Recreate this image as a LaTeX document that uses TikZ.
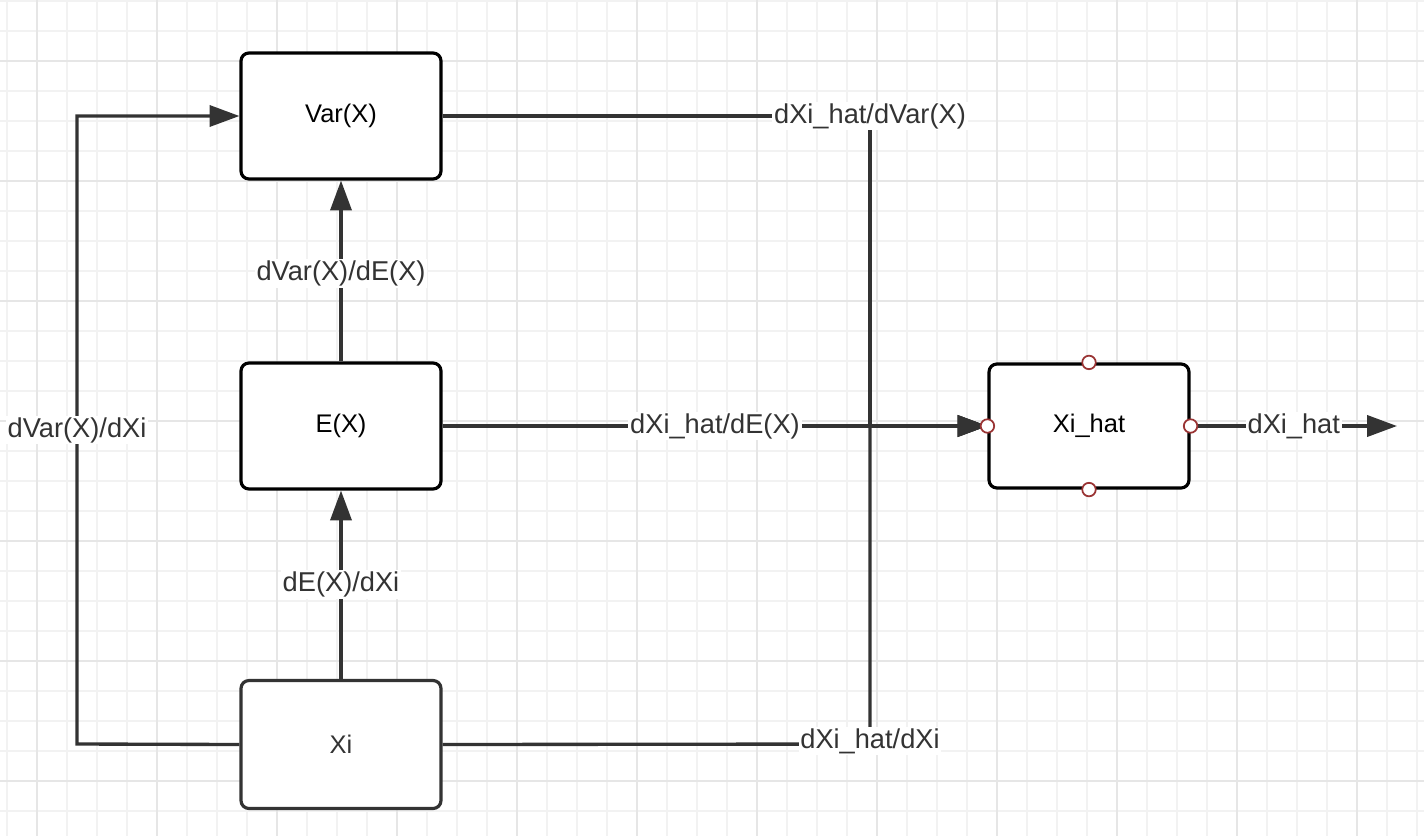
\documentclass[tikz,border=0pt]{standalone}
\usepackage{fontspec}
\setmainfont{Liberation Sans}
\usepackage{xcolor}
\definecolor{edgegray}{HTML}{333333}
\definecolor{gridminor}{HTML}{F2F2F2}
\definecolor{gridmajor}{HTML}{E6E6E6}
\definecolor{portred}{HTML}{9A3434}
\usepackage{tikz}
\usetikzlibrary{arrows.meta,positioning}

\begin{document}
\begin{tikzpicture}[x=0.02cm,y=-0.02cm,
                      box/.style={rectangle,rounded corners=4.5pt,draw=black,fill=white,
                                  line width=1.8pt,minimum width=4cm,minimum height=2.52cm,
                                  align=center,font=\fontsize{14.5}{17}\selectfont},
                      lbl/.style={fill=white,text=edgegray,inner sep=1pt,
                                  font=\fontsize{15.5}{18}\selectfont},
                      link/.style={draw=edgegray,line width=1.9pt},
                      arr/.style={link,-{Triangle[length=17pt,width=12pt]}},
                      port/.style={circle,draw=portred,fill=white,line width=1pt,
                                   minimum size=0.27cm,inner sep=0pt}]
    % background grid
    \useasboundingbox (0,0) rectangle (1424,836);
    \fill[white] (0,0) rectangle (1424,836);
    \foreach \k in {0,...,47} \draw[gridminor,line width=1.1pt] (6.7+30*\k,0) -- (6.7+30*\k,836);
    \foreach \k in {0,...,27} \draw[gridminor,line width=1.1pt] (0,0.7+30*\k) -- (1424,0.7+30*\k);
    \foreach \k in {0,...,11} \draw[gridmajor,line width=1.1pt] (36.7+120*\k,0) -- (36.7+120*\k,836);
    \foreach \k in {0,...,6} \draw[gridmajor,line width=1.1pt] (0,60.7+120*\k) -- (1424,60.7+120*\k);

    % blocks
    \node[box] (varx) at (341,116) {Var(X)};
    \node[box] (ex) at (341,426) {E(X)};
    \node[box,draw=edgegray,text=edgegray,minimum height=2.56cm] (xi) at (341,744.5) {Xi};
    \node[box,minimum height=2.48cm] (xihat) at (1089,426) {Xi\_hat};

    \coordinate (lft) at (77,744);
    \coordinate (vtop) at (870,116);
    \coordinate (vbot) at (870,744);
    \coordinate (junc) at (870,426);
    \coordinate (outend) at (1397,426);

    % connectors
    \draw[arr] (xi) -- node[lbl]{dE(X)/dXi} (ex);
    \draw[arr] (ex) -- node[lbl,yshift=-1.5pt]{dVar(X)/dE(X)} (varx);
    \draw[arr] (xi.west) -- (lft) -- node[lbl]{dVar(X)/dXi} (lft |- varx.west) -- (varx.west);
    \draw[arr] (varx.east) -- (vtop) -- (junc) -- (xihat.west);
    \draw[arr] (xi.east) -- (vbot) -- (junc) -- (xihat.west);
    \draw[arr] (ex) -- node[lbl]{dXi\_hat/dE(X)} (xihat);
    \node[lbl] (lvar) at (vtop) {dXi\_hat/dVar(X)};
    \node[lbl] (lxi) at ([yshift=1.7pt]vbot) {dXi\_hat/dXi};
    \draw[arr] (xihat.east) -- node[lbl]{dXi\_hat} (outend);

    % ports
    \foreach \a in {north,south,east,west}
      \node[port] at (xihat.\a) {};
  \end{tikzpicture}
\end{document}
